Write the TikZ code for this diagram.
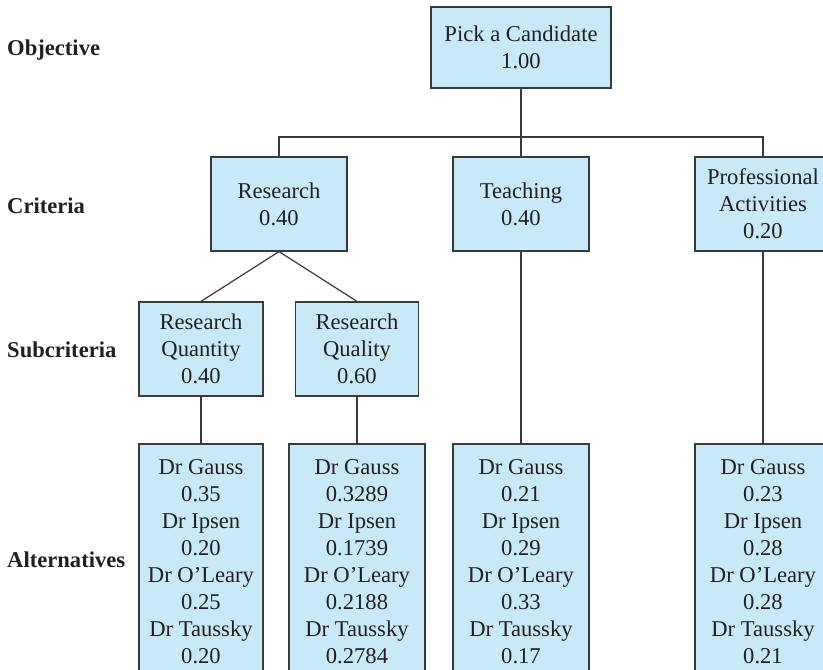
\documentclass[tikz,border=0pt]{standalone}
\usepackage{fontspec}
\setmainfont{Liberation Serif}
\definecolor{boxfill}{HTML}{C8E9F8}
\definecolor{boxline}{HTML}{3A3A3A}
\definecolor{txt}{HTML}{231F20}
\tikzset{
  x=1pt, y=-1pt,
  ahpbox/.style={draw=boxline, line width=1.2pt, fill=boxfill, inner sep=0pt, align=center,
    text=txt, font=\fontsize{22.6}{27}\selectfont},
  lvl/.style={anchor=base west, inner sep=0pt, text=txt, font=\fontsize{22.6}{27}\selectfont\bfseries},
  conn/.style={draw=boxline, line width=1.2pt}
}
\begin{document}
\begin{tikzpicture}
\useasboundingbox (0,0) rectangle (823,670);
\clip (0,0) rectangle (823,670);
% level labels
\node[lvl] (lobj) at (7,55) {Objective};
\node[lvl] (lcrit) at (7,213) {Criteria};
\node[lvl] (lsub) at (7,357) {Subcriteria};
\node[lvl] (lalt) at (7,567) {Alternatives};
% boxes
\node[ahpbox, minimum width=180pt, minimum height=81pt] (pick) at (521,47.5) {Pick a Candidate\\1.00};
\node[ahpbox, minimum width=136pt, minimum height=94pt] (research) at (279,204) {Research\\0.40};
\node[ahpbox, minimum width=136pt, minimum height=94pt] (teaching) at (521,204) {Teaching\\0.40};
\node[ahpbox, minimum width=136pt, minimum height=94pt] (prof) at (763,204) {Professional\\Activities\\0.20};
\node[ahpbox, minimum width=124pt, minimum height=94pt] (quant) at (201,349) {Research\\Quantity\\0.40};
\node[ahpbox, minimum width=123pt, minimum height=94pt] (qual) at (357,349) {Research\\Quality\\0.60};
\node[ahpbox, minimum width=124pt, minimum height=236pt] (altA) at (201,562) {Dr Gauss\\0.35\\Dr Ipsen\\0.20\\Dr O’Leary\\0.25\\Dr Taussky\\0.20};
\node[ahpbox, minimum width=136pt, minimum height=236pt] (altB) at (357,562) {Dr Gauss\\0.3289\\Dr Ipsen\\0.1739\\Dr O’Leary\\0.2188\\Dr Taussky\\0.2784};
\node[ahpbox, minimum width=136pt, minimum height=236pt] (altC) at (521,562) {Dr Gauss\\0.21\\Dr Ipsen\\0.29\\Dr O’Leary\\0.33\\Dr Taussky\\0.17};
\node[ahpbox, minimum width=136pt, minimum height=236pt] (altD) at (763,562) {Dr Gauss\\0.23\\Dr Ipsen\\0.28\\Dr O’Leary\\0.28\\Dr Taussky\\0.21};
% connectors
\coordinate (bus) at (521,137);
\draw[conn] (pick.south) -- (teaching.north);
\draw[conn] (research.north) |- (bus) -| (prof.north);
\draw[conn] (quant.north) -- (research.south) -- (qual.north);
\draw[conn] (quant.south) -- (altA.north);
\draw[conn] (qual.south) -- (altB.north);
\draw[conn] (teaching.south) -- (altC.north);
\draw[conn] (prof.south) -- (altD.north);
\end{tikzpicture}
\end{document}
